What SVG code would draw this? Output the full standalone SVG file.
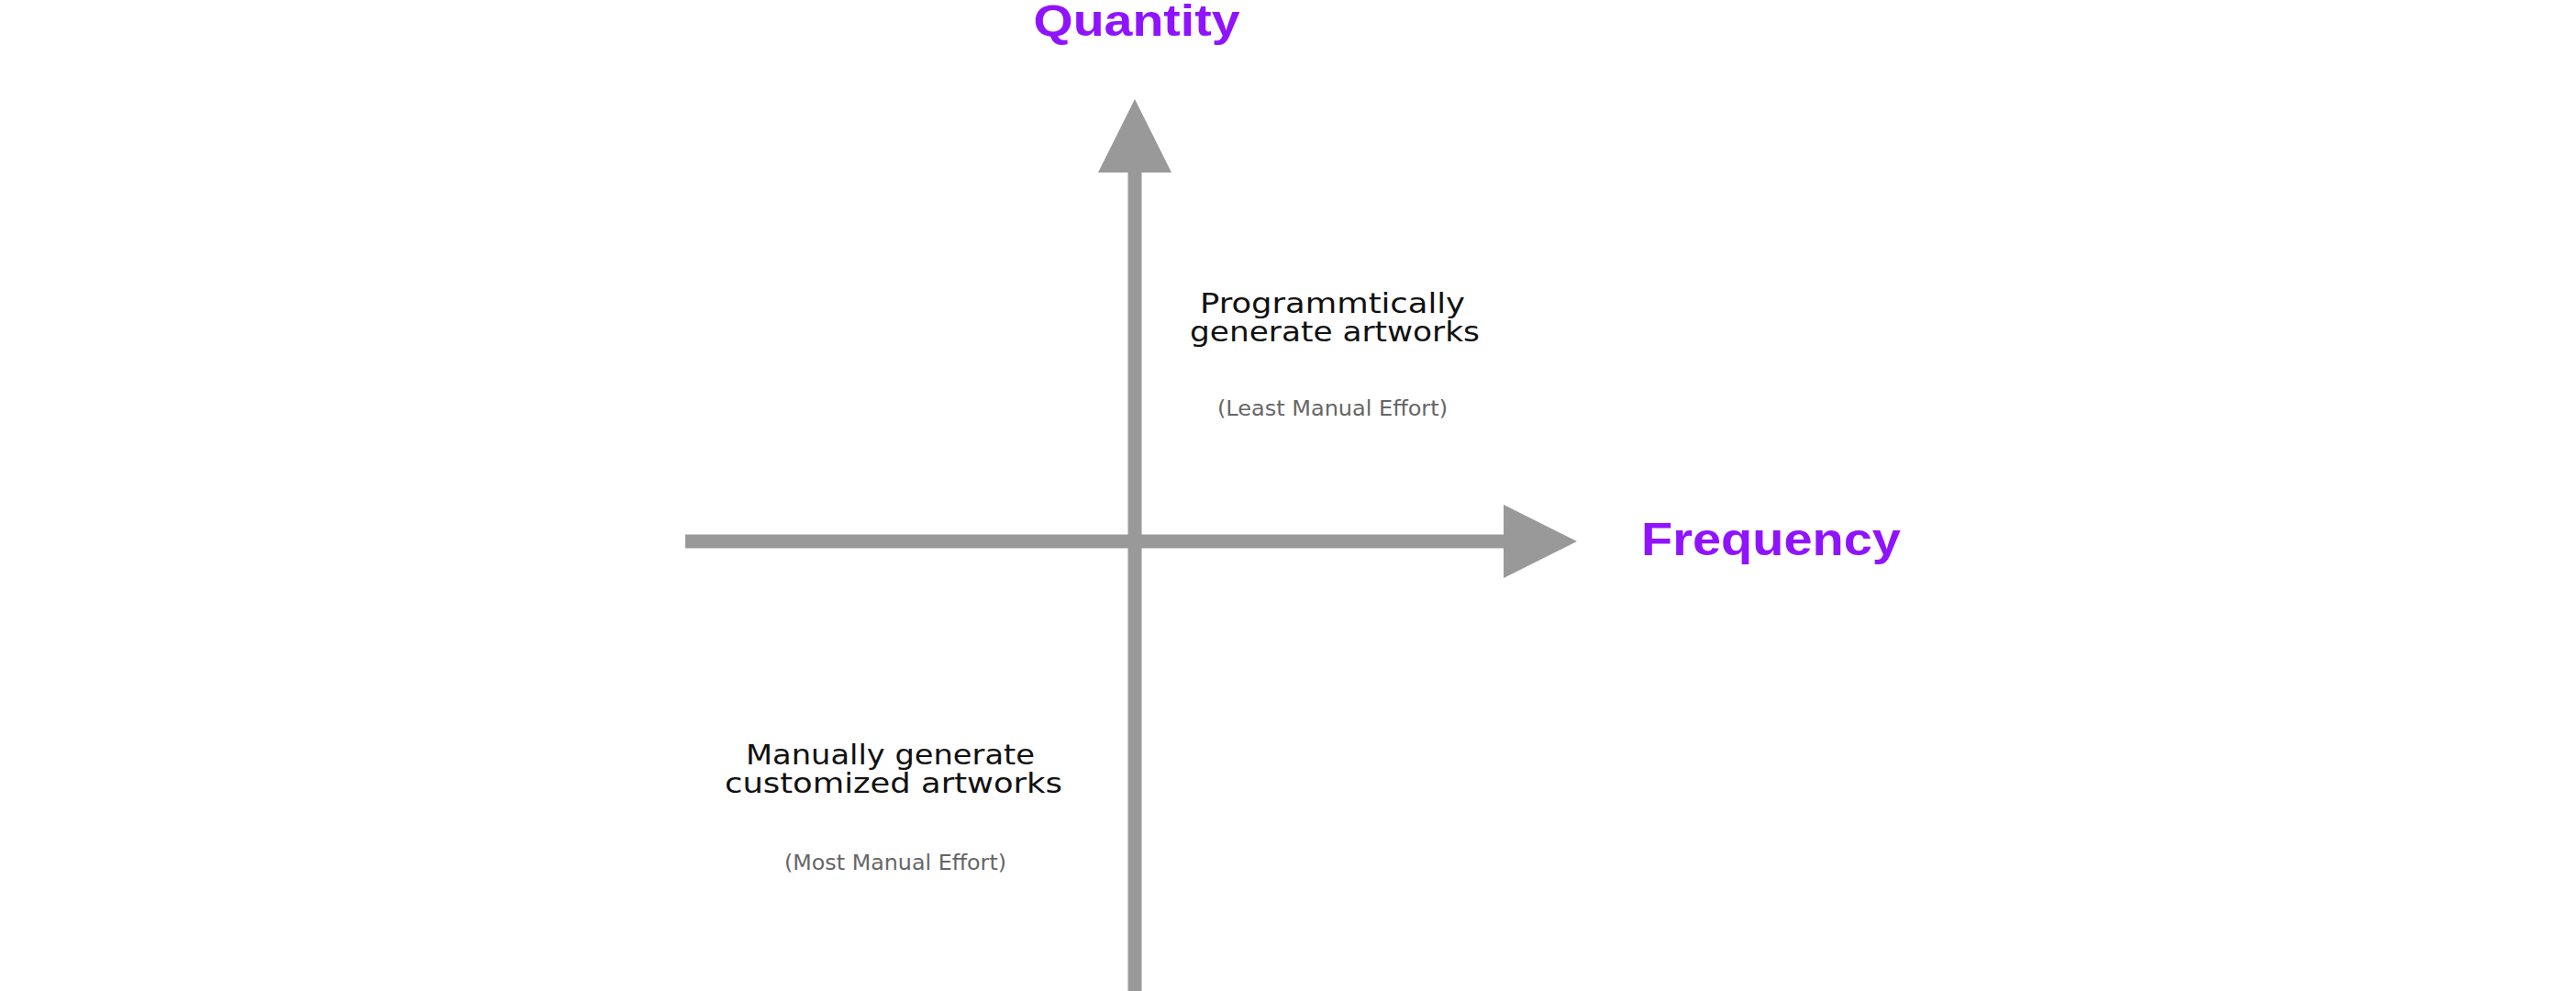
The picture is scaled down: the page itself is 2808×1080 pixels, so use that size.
<svg xmlns="http://www.w3.org/2000/svg" width="2808" height="1080" viewBox="0 0 2808 1080">
  <style>
    .axis { fill: #999999; }
    .title { font-family: "Liberation Sans", Arial, sans-serif; font-weight: bold; fill: #9013FE; text-anchor: middle; }
    .main { font-family: "DejaVu Sans", "Liberation Sans", sans-serif; font-size: 30px; fill: #111111; text-anchor: middle; }
    .sub { font-family: "DejaVu Sans", "Liberation Sans", sans-serif; font-size: 23px; fill: #666666; text-anchor: middle; }
  </style>
  <rect width="2808" height="1080" fill="#ffffff"/>
  <g id="connectors">
    <rect class="axis" x="747" y="582.5" width="894" height="15"/>
    <polygon class="axis" points="1639,550 1719,590 1639,630"/>
    <rect class="axis" x="1229.5" y="186" width="15" height="894"/>
    <polygon class="axis" points="1197,188 1237,108 1277,188"/>
  </g>
  <g id="quantity">
    <text class="title" x="1239" y="38.5" font-size="48" textLength="225" lengthAdjust="spacingAndGlyphs">Quantity</text>
  </g>
  <g id="frequency">
    <text class="title" x="1930.5" y="605" font-size="50" textLength="283" lengthAdjust="spacingAndGlyphs">Frequency</text>
  </g>
  <g id="programmatic">
    <text class="main" x="1452.5" y="341" textLength="289" lengthAdjust="spacingAndGlyphs">Programmtically</text>
    <text class="main" x="1455" y="371.5" textLength="316" lengthAdjust="spacingAndGlyphs">generate artworks</text>
    <text class="sub" x="1452.5" y="453" textLength="251" lengthAdjust="spacingAndGlyphs">(Least Manual Effort)</text>
  </g>
  <g id="manual">
    <text class="main" x="970.5" y="833" textLength="315" lengthAdjust="spacingAndGlyphs">Manually generate</text>
    <text class="main" x="974" y="864" textLength="368" lengthAdjust="spacingAndGlyphs">customized artworks</text>
    <text class="sub" x="976" y="948" textLength="242" lengthAdjust="spacingAndGlyphs">(Most Manual Effort)</text>
  </g>
</svg>
